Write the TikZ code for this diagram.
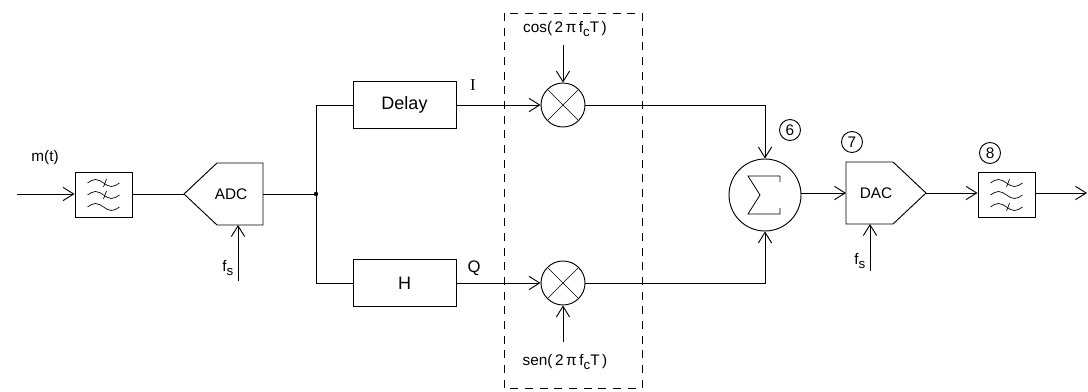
\documentclass[tikz,border=0pt]{standalone}
\usepackage{fontspec}
\setmainfont{Liberation Sans}
\newfontfamily\serifI{Liberation Serif}
\usetikzlibrary{arrows.meta,calc,positioning}
\newlength\px
\setlength\px{0.75pt}
\newcommand\lowsub[1]{\raisebox{-0.45ex}{\fontsize{10}{11}\selectfont#1}}

\begin{document}
\begin{tikzpicture}[x=0.75pt,y=-0.75pt,line width=0.7pt,
  sig/.style={-{Straight Barb[length=8pt,width=10pt,line width=0.7pt]}},
  blk/.style={draw,rectangle,minimum width=103\px,minimum height=47\px,font=\fontsize{13.5}{15}\selectfont},
  flt/.style={draw,rectangle,minimum width=57\px,minimum height=45\px},
  mix/.style={draw,circle,minimum size=44\px,inner sep=0pt,
    path picture={\draw[line width=0.5pt]
      (path picture bounding box.north west) -- (path picture bounding box.south east)
      (path picture bounding box.north east) -- (path picture bounding box.south west);}},
  sumnode/.style={draw,circle,minimum size=72\px,inner sep=0pt},
  tag/.style={draw,circle,minimum size=21\px,inner sep=0pt,font=\fontsize{11.5}{12}\selectfont},
  lbl/.style={inner sep=1pt,font=\fontsize{11.5}{13}\selectfont},
  conv/.style={inner sep=0pt,font=\fontsize{11.5}{13}\selectfont}]
  \useasboundingbox (0,0) rectangle (1088,392);

  % input, filter, ADC
  \coordinate (in) at (17,194);
  \node[lbl] (mt) at (45,158) {m(t)};
  \node[flt] (lpf1) at (103.5,195) {};
  \node[conv] (adc) at (231,194) {ADC};
  \draw (184,194) -- (217,163) -- (263,163) -- (263,225) -- (217,225) -- cycle;
  \coordinate (adcin) at (184,194);
  \coordinate (adcout) at (263,194);
  \coordinate (adcclk) at (238,225);
  \coordinate (fsA) at (238,281);
  \node[lbl,anchor=east] (fsAl) at (235,268) {f\lowsub{s}};

  % branches
  \coordinate (split) at (316,194);
  \node[blk] (delay) at (404.5,105) {Delay};
  \node[blk] (hbox) at (404.5,283) {H};
  \node[lbl,font=\serifI\fontsize{12.5}{13}\selectfont] (Il) at (473,85) {I};
  \node[lbl,font=\fontsize{12.5}{13}\selectfont] (Ql) at (474,268) {Q};

  % mixers
  \draw[dashed,dash pattern=on 6pt off 5pt] (504,13) rectangle (642,388);
  \node[mix] (mixI) at (563,105) {};
  \node[mix] (mixQ) at (563,283) {};
  \node[lbl] (cosl) at (565,29) {cos(\,2\,π\,f\lowsub{c}T\,)};
  \node[lbl] (senl) at (565,362) {sen(\,2\,π\,f\lowsub{c}T\,)};
  \coordinate (cosA) at (563,45);
  \coordinate (senA) at (563,342);

  % sum, DAC, filter, output
  \node[sumnode] (sum) at (765,195) {};
  \draw[shift={(sum.center)},line width=0.6pt] (15,-13) -- (15,-19) -- (-17,-19) -- (-5,0) -- (-17,19) -- (15,19) -- (15,13);
  \node[tag] (t6) at (790,130) {6};
  \node[conv] (dac) at (876,193) {DAC};
  \draw (846,162) -- (893,162) -- (926,193) -- (893,224) -- (846,224) -- cycle;
  \coordinate (dacin) at (846,193);
  \coordinate (dacout) at (926,193);
  \coordinate (dacclk) at (870,224);
  \coordinate (fsB) at (870,271);
  \node[lbl,anchor=east] (fsBl) at (867,261) {f\lowsub{s}};
  \node[tag] (t7) at (852,142) {7};
  \node[flt] (lpf2) at (1006.5,195) {};
  \node[tag] (t8) at (990,153) {8};
  \coordinate (out) at (1087,193);

  % filter symbols
  \foreach \f in {lpf1,lpf2}
    \foreach \dy in {-12,0,12}
      \draw[line width=0.5pt,shift={(\f.center)}] (-16,\dy) sin +(8,-3.5) cos +(8,3.5) sin +(8,3.5) cos +(8,-3.5);
  \foreach \f/\dy in {lpf1/-12,lpf1/0,lpf2/-12,lpf2/12}
    \draw[line width=0.5pt,shift={(\f.center)}] (0,\dy+4) -- (3,\dy-4);

  % connections
  \draw[sig] (in) -- (in -| lpf1.west);
  \draw (lpf1.east |- adcin) -- (adcin);
  \draw (adcout) -- (split);
  \fill (split) circle (2.2);
  \draw (split) |- (delay.west);
  \draw (split) |- (hbox.west);
  \draw[sig] (fsA) -- (adcclk);
  \draw[sig] (delay) -- (mixI);
  \draw[sig] (hbox) -- (mixQ);
  \draw[sig] (cosA) -- (mixI.north);
  \draw[sig] (senA) -- (mixQ.south);
  \draw[sig] (mixI) -| (sum.north);
  \draw[sig] (mixQ) -| (sum.south);
  \draw[sig] (sum.east |- dacin) -- (dacin);
  \draw[sig] (fsB) -- (dacclk);
  \draw[sig] (dacout) -- (dacout -| lpf2.west);
  \draw[sig] (lpf2.east |- out) -- (out);
\end{tikzpicture}
\end{document}
